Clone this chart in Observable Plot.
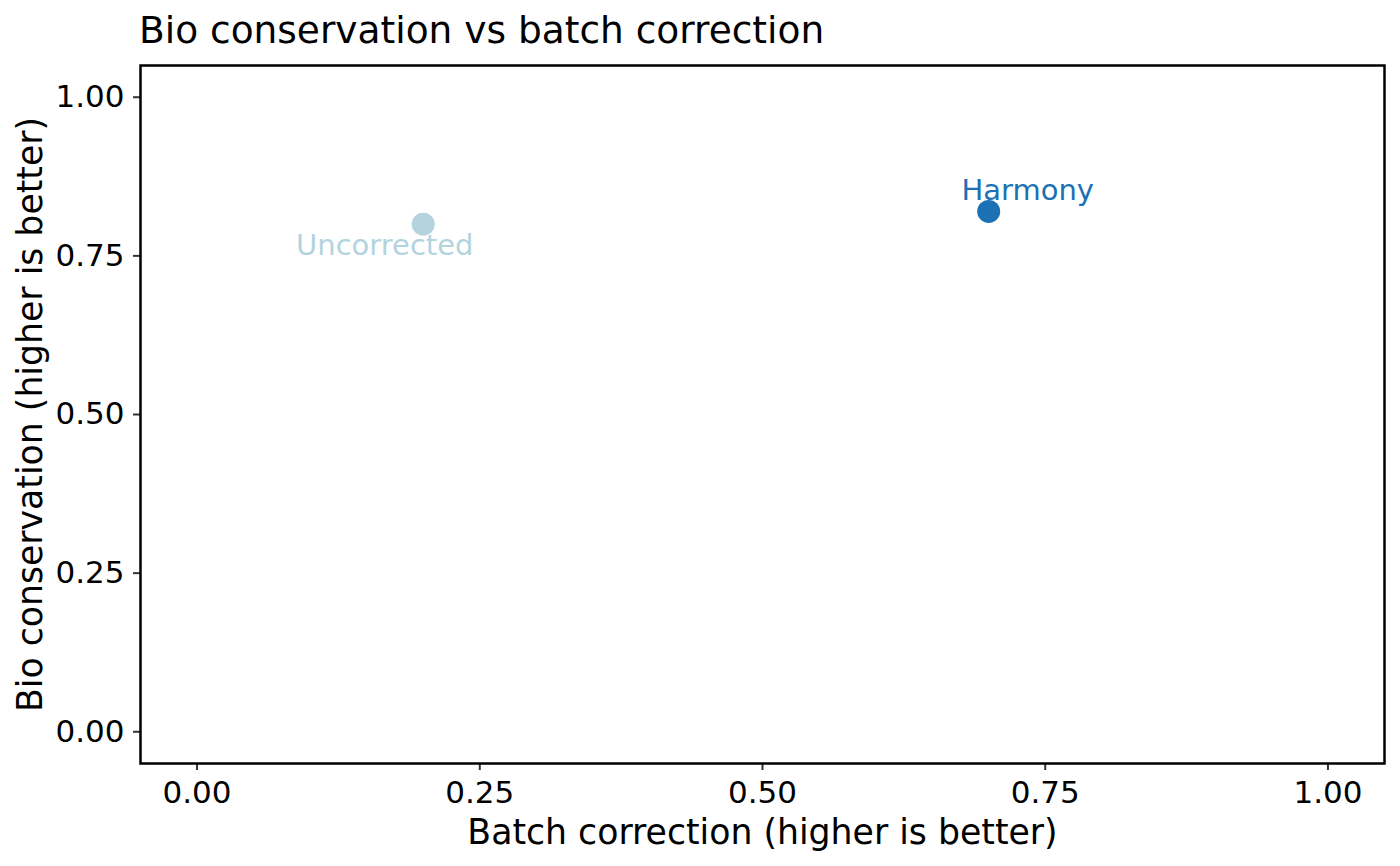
<!DOCTYPE html>
<html>
<head>
<meta charset="utf-8">
<script src="https://cdn.jsdelivr.net/npm/d3@7"></script>
<script src="https://cdn.jsdelivr.net/npm/@observablehq/plot@0.6"></script>
<style>
  html, body { margin: 0; padding: 0; background: #ffffff; }
  body { width: 1400px; height: 866px; overflow: hidden; font-family: "DejaVu Sans", sans-serif; }
  #title { height: 60px; line-height: 60px; font-size: 37.5px; padding-left: 139px; color: #000; white-space: nowrap; }
  #chart svg { display: block; }
</style>
</head>
<body>
<div id="title">Bio conservation vs batch correction</div>
<div id="chart"></div>
<script>
// ---- data ----
const methods = ["Uncorrected", "Harmony"];
const batchScores = [0.20, 0.70];
const bioScores = [0.80, 0.82];
const methodColors = ["#b3d4de", "#1b71b4"];
// repelled label positions (data units)
const labelBatch = [0.166, 0.7345];
const labelBio = [0.7655, 0.853];
const tickValues = [0, 0.25, 0.5, 0.75, 1];
const tickLabels = ["0.00", "0.25", "0.50", "0.75", "1.00"];
const xTitle = "Batch correction (higher is better)";
const yTitle = "Bio conservation (higher is better)";

const rows = methods.map((m, i) => ({
  method: m, batch: batchScores[i], bio: bioScores[i],
  lx: labelBatch[i], ly: labelBio[i]
}));
const fmt = d => tickLabels[tickValues.indexOf(d)];

const plot = Plot.plot({
  width: 1400,
  height: 806,
  marginTop: 5,
  marginBottom: 103,
  marginLeft: 140,
  marginRight: 16,
  style: { fontFamily: "DejaVu Sans", background: "white", color: "black" },
  x: { domain: [-0.05, 1.05] },
  y: { domain: [-0.05, 1.05] },
  color: { domain: methods, range: methodColors },
  marks: [
    Plot.axisX({ ticks: tickValues, tickFormat: fmt, tickSize: 7, tickPadding: 10, fontSize: 31, stroke: "#333333", strokeWidth: 2, fill: "black", label: null }),
    Plot.axisY({ ticks: tickValues, tickFormat: fmt, tickSize: 7, tickPadding: 9, fontSize: 31, stroke: "#333333", strokeWidth: 2, fill: "black", label: null }),
    Plot.frame({ stroke: "black", strokeWidth: 2.5 }),
    Plot.dot(rows, { x: "batch", y: "bio", fill: "method", r: 11.5 }),
    Plot.text(rows, { x: "lx", y: "ly", text: "method", fill: "method", fontSize: 29, textAnchor: "middle", lineAnchor: "middle" }),
    Plot.text([xTitle], { text: d => d, frameAnchor: "bottom", dy: 69, fontSize: 34.7, fill: "black", textAnchor: "middle", lineAnchor: "middle" }),
    Plot.text([yTitle], { text: d => d, frameAnchor: "left", dx: -110, rotate: -90, fontSize: 34.7, fill: "black", textAnchor: "middle", lineAnchor: "middle" })
  ]
});
document.getElementById("chart").appendChild(plot);
</script>
</body>
</html>
